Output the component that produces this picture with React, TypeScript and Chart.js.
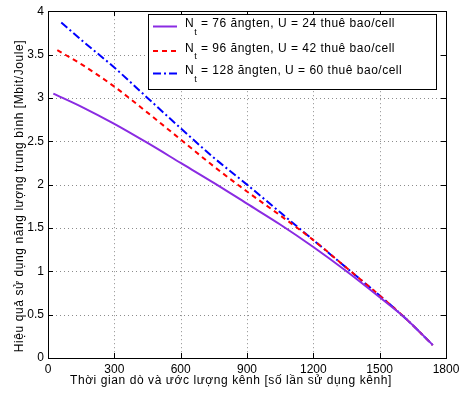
import React, { useEffect, useRef } from "react";
import { Chart, registerables } from "chart.js";

Chart.register(...registerables);

const xTicks = [0, 300, 600, 900, 1200, 1500, 1800];
const yTicks = [0, 0.5, 1, 1.5, 2, 2.5, 3, 3.5, 4];

const tau76 = [24, 150, 300, 450, 600, 750, 900, 1050, 1200, 1350, 1500, 1620, 1740];
const ee76 = [3.05, 2.9, 2.7, 2.48, 2.25, 2.02, 1.78, 1.54, 1.28, 1.0, 0.7, 0.45, 0.15];
const tau96 = [42, 150, 300, 450, 600, 750, 900, 1050, 1200, 1350, 1500, 1620, 1740];
const ee96 = [3.55, 3.39, 3.13, 2.83, 2.52, 2.21, 1.92, 1.645, 1.36, 1.04, 0.72, 0.45, 0.15];
const tau128 = [60, 150, 300, 450, 600, 750, 900, 1050, 1200, 1350, 1500, 1620, 1740];
const ee128 = [3.87, 3.67, 3.35, 3.0, 2.65, 2.31, 2.0, 1.68, 1.36, 1.04, 0.72, 0.45, 0.15];

const legendMain = ["N", "N", "N"];
const legendSub = ["t", "t", "t"];
const legendRest = [
  " = 76 ăngten, U = 24 thuê bao/cell",
  " = 96 ăngten, U = 42 thuê bao/cell",
  " = 128 ăngten, U = 60 thuê bao/cell",
];
const xTitle = "Thời gian dò và ước lượng kênh [số lần sử dụng kênh]";
const yTitle = "Hiệu quả sử dụng năng lượng trung bình [Mbit/Joule]";

const colors = ["#8a2be2", "#ff0000", "#0000ff"];
const dashes: number[][] = [[], [5, 4], [8, 3, 2, 3]];
const FONT = "'Liberation Sans', Arial, Helvetica, sans-serif";

function pts(xs: number[], ys: number[]) {
  return xs.map((x, i) => ({ x, y: ys[i] }));
}

const framePlugin = {
  id: "matlabFrame",
  beforeDatasetsDraw(chart: any) {
    const { ctx, chartArea: a, scales } = chart;
    ctx.save();
    ctx.strokeStyle = "#8c8c8c";
    ctx.lineWidth = 1;
    ctx.setLineDash([1, 3]);
    xTicks.slice(1, -1).forEach((v) => {
      const px = Math.round(scales.x.getPixelForValue(v)) + 0.5;
      ctx.beginPath();
      ctx.moveTo(px, a.top);
      ctx.lineTo(px, a.bottom);
      ctx.stroke();
    });
    yTicks.slice(1, -1).forEach((v) => {
      const py = Math.round(scales.y.getPixelForValue(v)) + 0.5;
      ctx.beginPath();
      ctx.moveTo(a.left, py);
      ctx.lineTo(a.right, py);
      ctx.stroke();
    });
    ctx.restore();
  },
  afterDraw(chart: any) {
    const { ctx, chartArea: a, scales } = chart;
    ctx.save();
    ctx.setLineDash([]);
    ctx.globalAlpha = 1;
    const L = Math.round(a.left);
    const R = Math.round(a.right);
    const T = Math.round(a.top);
    const B = Math.round(a.bottom);
    ctx.fillStyle = "#000000";
    ctx.fillRect(L, T, R - L + 1, 1);
    ctx.fillRect(L, B, R - L + 1, 1);
    ctx.fillRect(L, T, 1, B - T + 1);
    ctx.fillRect(R, T, 1, B - T + 1);
    const tl = 5;
    xTicks.forEach((v) => {
      const px = Math.round(scales.x.getPixelForValue(v));
      ctx.fillRect(px, B - tl, 1, tl);
      ctx.fillRect(px, T, 1, tl);
    });
    yTicks.forEach((v) => {
      const py = Math.round(scales.y.getPixelForValue(v));
      ctx.fillRect(L, py, tl, 1);
      ctx.fillRect(R - tl, py, tl, 1);
    });

    // Legend
    const lx = L + 100;
    const ly = T + 3;
    const lw = 288;
    const lh = 75;
    ctx.fillStyle = "#fff";
    ctx.fillRect(lx, ly, lw, lh);
    ctx.fillStyle = "#000";
    ctx.fillRect(lx, ly, lw, 1);
    ctx.fillRect(lx, ly + lh, lw + 1, 1);
    ctx.fillRect(lx, ly, 1, lh);
    ctx.fillRect(lx + lw, ly, 1, lh);
    const rows = [26.5, 51, 73.5];
    rows.forEach((ry, i) => {
      ctx.save();
      ctx.strokeStyle = colors[i];
      ctx.lineWidth = 2;
      ctx.setLineDash(dashes[i]);
      ctx.beginPath();
      ctx.moveTo(lx + 5, ry);
      ctx.lineTo(lx + 29, ry);
      ctx.stroke();
      ctx.restore();
      ctx.fillStyle = "#000";
      ctx.textBaseline = "alphabetic";
      ctx.textAlign = "left";
      (ctx as any).letterSpacing = "0.5px";
      let tx = lx + 37;
      const by = ry + 0.5;
      ctx.font = `12px ${FONT}`;
      ctx.fillText(legendMain[i], tx, by);
      tx += ctx.measureText(legendMain[i]).width;
      ctx.font = `9px ${FONT}`;
      ctx.fillText(legendSub[i], tx, by + 7.5);
      tx += ctx.measureText(legendSub[i]).width;
      ctx.font = `12px ${FONT}`;
      ctx.fillText(legendRest[i], tx, by);
    });

    // Axis titles
    ctx.fillStyle = "#000";
    ctx.font = `12px ${FONT}`;
    (ctx as any).letterSpacing = "0.58px";
    ctx.textAlign = "center";
    ctx.textBaseline = "middle";
    ctx.fillText(xTitle, 231, 381);
    ctx.save();
    ctx.translate(20, 196);
    ctx.rotate(-Math.PI / 2);
    ctx.fillText(yTitle, 0, 0);
    ctx.restore();
    ctx.restore();
  },
};

export default function App() {
  const ref = useRef<HTMLCanvasElement | null>(null);
  useEffect(() => {
    if (!ref.current) return;
    const tickFont = { family: FONT, size: 12 };
    const ds = (xs: number[], ys: number[], i: number) => ({
      data: pts(xs, ys),
      borderColor: colors[i],
      borderWidth: 2,
      borderDash: dashes[i],
      pointRadius: 0,
      fill: false,
      cubicInterpolationMode: "monotone",
    });
    const chart = new Chart(ref.current, {
      type: "line",
      data: {
        datasets: [ds(tau76, ee76, 0), ds(tau96, ee96, 1), ds(tau128, ee128, 2)],
      },
      options: {
        responsive: false,
        animation: false,
        devicePixelRatio: 1,
        layout: { padding: { left: 0, right: 18, top: 10, bottom: 0 } },
        plugins: { legend: { display: false }, tooltip: { enabled: false } },
        scales: {
          x: {
            type: "linear",
            position: "bottom",
            min: 0,
            max: 1800,
            grid: { display: false, drawTicks: false, tickLength: 0 },
            border: { display: false },
            afterBuildTicks: (s: any) => {
              s.ticks = xTicks.map((v) => ({ value: v }));
            },
            afterFit: (s: any) => {
              s.height = 36;
            },
            ticks: { font: tickFont, color: "#000", padding: 4, maxRotation: 0, autoSkip: false, callback: (v: any) => String(v) },
          },
          y: {
            type: "linear",
            position: "left",
            min: 0,
            max: 4,
            grid: { display: false, drawTicks: false, tickLength: 0 },
            border: { display: false },
            afterBuildTicks: (s: any) => {
              s.ticks = yTicks.map((v) => ({ value: v }));
            },
            afterFit: (s: any) => {
              s.width = 48;
            },
            ticks: { font: tickFont, color: "#000", padding: 4, autoSkip: false, callback: (v: any) => String(v) },
          },
        },
      },
      plugins: [framePlugin],
    } as any);
    return () => chart.destroy();
  }, []);
  return (
    <div style={{ position: "absolute", left: 0, top: 0, width: 464, height: 394, background: "#fff" }}>
      <canvas ref={ref} width={464} height={394} />
    </div>
  );
}
